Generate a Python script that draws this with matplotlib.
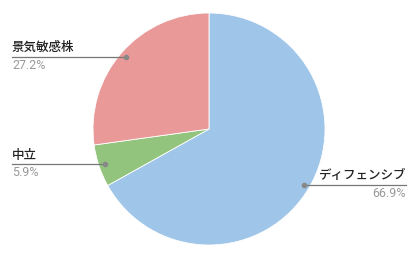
import numpy as np
import matplotlib.pyplot as plt

labels = ["ディフェンシブ", "中立", "景気敏感株"]
values = [66.9, 5.9, 27.2]
colors = ["#9fc5e8", "#93c47d", "#ea9999"]

plt.rcParams['font.family'] = ['Noto Sans CJK JP', 'DejaVu Sans']

W, H = 419, 259
fig = plt.figure(figsize=(W / 100, H / 100), dpi=100)
ax = fig.add_axes([0, 0, 1, 1])

cx, cy, r = 209, 259 - 129, 116
wedges, _ = ax.pie(values, colors=colors, startangle=90, counterclock=False,
                   center=(cx, cy), radius=r, frame=True,
                   wedgeprops=dict(linewidth=0.6, edgecolor='white'))
ax.set_xlim(0, W)
ax.set_ylim(0, H)
ax.set_aspect('equal')
ax.axis('off')

for w, lab, v in zip(wedges, labels, values):
    ang = np.deg2rad((w.theta1 + w.theta2) / 2)
    px = cx + 0.95 * r * np.cos(ang)
    py = cy + 0.95 * r * np.sin(ang)
    if np.cos(ang) < 0:
        x0, x1, ha = 12, px, 'left'
        tx = x0
    else:
        x0, x1, ha = px, 406, 'right'
        tx = x1
    ax.plot([x0, x1], [py, py], color='#777777', lw=0.9)
    ax.plot(px, py, 'o', color='#888888', ms=3)
    ax.text(tx, py + 2.5, lab, ha=ha, va='bottom', fontsize=9, color='#222222',
            fontweight='medium')
    ax.text(tx, py - 2, f"{v}%", ha=ha, va='top', fontsize=9, color='#999999',
            family=['Roboto', 'DejaVu Sans'])

fig.savefig("out.png", dpi=100)
